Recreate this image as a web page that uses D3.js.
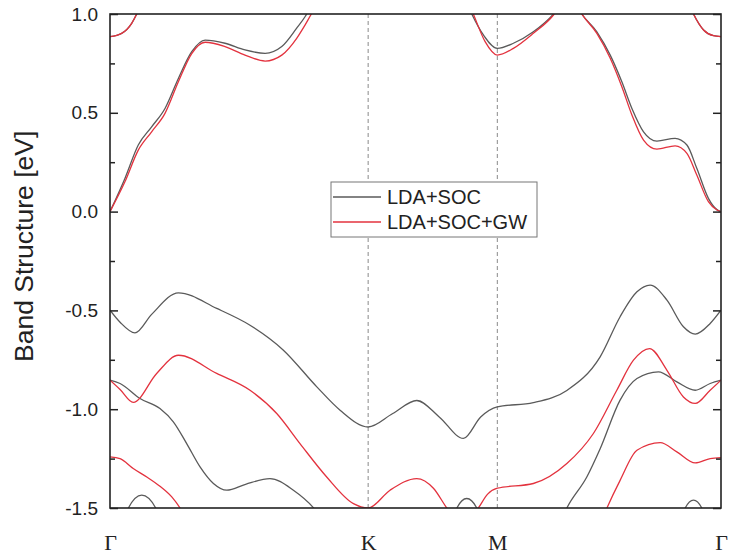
<!DOCTYPE html>
<html>
<head>
<meta charset="utf-8">
<script src="https://d3js.org/d3.v7.min.js"></script>
<style>
  body { margin: 0; background: #fff; }
  svg { display: block; }
</style>
</head>
<body>
<script>
// high symmetry points along the path (path length units) and their labels
const kPoints = [0, 1.333, 2.0, 3.155];
const kLabels = ["Γ", "K", "M", "Γ"];
const yTicks = [-1.5, -1.0, -0.5, 0.0, 0.5, 1.0];
const yMinor = [-1.25, -0.75, -0.25, 0.25, 0.75];
const seriesNames = ["LDA+SOC", "LDA+SOC+GW"];

// LDA+SOC bands, [k, E in eV]
const ldaBands = [
  [[0,0.0],[0.077,0.168],[0.146,0.337],[0.215,0.429],[0.284,0.522],[0.353,0.674],[0.422,0.809],[0.491,0.868],[0.594,0.852],[0.697,0.818],[0.801,0.801],[0.887,0.835],[0.964,0.928],[1.007,0.986],[1.05,1.06]],
  [[1.84,1.06],[1.868,1.0],[1.928,0.894],[2.0,0.826],[2.083,0.852],[2.186,0.91],[2.29,1.0],[2.33,1.05]],
  [[2.40,1.06],[2.436,1.0],[2.514,0.91],[2.583,0.792],[2.643,0.657],[2.695,0.522],[2.755,0.404],[2.824,0.357],[2.918,0.371],[2.979,0.337],[3.03,0.219],[3.09,0.067],[3.134,0.01],[3.155,0.0]],
  [[0,0.885],[0.06,0.902],[0.112,0.953],[0.138,1.0],[0.16,1.05]],
  [[2.99,1.05],[3.013,1.0],[3.065,0.919],[3.116,0.89],[3.155,0.885]],
  [[0,-0.499],[0.052,-0.56],[0.129,-0.614],[0.215,-0.52],[0.353,-0.411],[0.551,-0.49],[0.723,-0.575],[0.894,-0.70],[1.068,-0.887],[1.188,-1.005],[1.333,-1.09],[1.46,-1.022],[1.584,-0.956],[1.70,-1.039],[1.825,-1.148],[1.914,-1.039],[2.0,-0.988],[2.186,-0.967],[2.359,-0.905],[2.531,-0.735],[2.634,-0.532],[2.721,-0.406],[2.789,-0.372],[2.876,-0.448],[2.961,-0.583],[3.022,-0.62],[3.099,-0.566],[3.155,-0.499]],
  [[0,-0.853],[0.052,-0.87],[0.155,-0.946],[0.258,-0.997],[0.327,-1.064],[0.396,-1.174],[0.465,-1.292],[0.534,-1.376],[0.603,-1.41],[0.70,-1.38],[0.826,-1.351],[0.947,-1.41],[1.05,-1.498],[1.10,-1.56]],
  [[0.07,-1.56],[0.095,-1.5],[0.164,-1.435],[0.236,-1.5],[0.26,-1.56]],
  [[1.77,-1.56],[1.791,-1.5],[1.842,-1.452],[1.894,-1.5],[1.915,-1.56]],
  [[2.95,-1.56],[2.970,-1.5],[3.013,-1.46],[3.056,-1.5],[3.075,-1.56]],
  [[2.33,-1.56],[2.359,-1.5],[2.462,-1.343],[2.531,-1.20],[2.634,-0.954],[2.721,-0.845],[2.832,-0.811],[2.927,-0.862],[3.022,-0.904],[3.099,-0.87],[3.155,-0.853]]
];

// LDA+SOC+GW bands
const gwBands = [
  [[0,0.0],[0.077,0.151],[0.146,0.311],[0.215,0.404],[0.284,0.497],[0.353,0.657],[0.422,0.80],[0.491,0.857],[0.594,0.835],[0.697,0.792],[0.801,0.762],[0.887,0.792],[0.964,0.877],[1.007,0.944],[1.04,1.0],[1.08,1.06]],
  [[1.85,1.06],[1.876,1.0],[1.937,0.86],[2.0,0.792],[2.083,0.826],[2.186,0.902],[2.29,0.995],[2.33,1.05]],
  [[2.40,1.06],[2.436,1.0],[2.514,0.902],[2.583,0.776],[2.643,0.632],[2.695,0.489],[2.755,0.362],[2.824,0.316],[2.918,0.333],[2.979,0.295],[3.03,0.185],[3.09,0.05],[3.134,0.008],[3.155,0.0]],
  [[0,0.885],[0.06,0.902],[0.112,0.953],[0.138,1.0],[0.16,1.05]],
  [[2.99,1.05],[3.013,1.0],[3.065,0.919],[3.116,0.89],[3.155,0.885]],
  [[0,-0.853],[0.052,-0.90],[0.12,-0.965],[0.241,-0.819],[0.353,-0.727],[0.551,-0.819],[0.723,-0.904],[0.861,-1.022],[0.981,-1.174],[1.119,-1.343],[1.257,-1.478],[1.333,-1.50],[1.446,-1.41],[1.584,-1.351],[1.67,-1.40],[1.739,-1.5],[1.82,-1.6],[1.902,-1.5],[1.95,-1.43],[2.0,-1.40],[2.186,-1.376],[2.359,-1.275],[2.496,-1.123],[2.617,-0.904],[2.703,-0.752],[2.786,-0.693],[2.876,-0.803],[2.961,-0.938],[3.022,-0.971],[3.099,-0.904],[3.155,-0.853]],
  [[0,-1.241],[0.052,-1.25],[0.12,-1.30],[0.19,-1.343],[0.258,-1.39],[0.319,-1.444],[0.362,-1.5],[0.40,-1.56]],
  [[2.54,-1.56],[2.566,-1.5],[2.634,-1.36],[2.721,-1.208],[2.841,-1.169],[2.927,-1.216],[3.022,-1.272],[3.099,-1.25],[3.155,-1.245]]
];

var width = 730, height = 559;
var plotLeft = 110, plotRight = 721, plotTop = 14, plotBottom = 508;
var colors = ["#5a5a5a", "#e3323e"];

var svg = d3.select("body").append("svg")
  .attr("width", width)
  .attr("height", height);

var x = d3.scaleLinear().domain([kPoints[0], kPoints[3]]).range([plotLeft, plotRight]);
var y = d3.scaleLinear().domain([-1.5, 1.0]).range([plotBottom, plotTop]);

svg.append("clipPath").attr("id", "plotclip")
  .append("rect")
  .attr("x", plotLeft).attr("y", plotTop)
  .attr("width", plotRight - plotLeft).attr("height", plotBottom - plotTop);

// dashed lines at K and M
svg.selectAll(".kline")
  .data(kPoints.slice(1, 3))
  .enter().append("line")
  .attr("class", "kline")
  .attr("x1", d => x(d)).attr("x2", d => x(d))
  .attr("y1", plotTop).attr("y2", plotBottom)
  .attr("stroke", "#8a8a8a")
  .attr("stroke-width", 1)
  .attr("stroke-dasharray", "4,3");

var line = d3.line()
  .x(d => x(d[0]))
  .y(d => y(d[1]))
  .curve(d3.curveMonotoneX);

var bandGroup = svg.append("g").attr("clip-path", "url(#plotclip)");

[ldaBands, gwBands].forEach((bands, i) => {
  bandGroup.append("g")
    .selectAll("path")
    .data(bands)
    .enter().append("path")
    .attr("d", line)
    .attr("fill", "none")
    .attr("stroke", colors[i])
    .attr("stroke-width", 1.3);
});

// axes
var fontSans = "'Liberation Sans', Arial, sans-serif";

function styleTicks(g) {
  g.select(".domain").remove();
  g.selectAll("line").attr("stroke", "#222").attr("stroke-width", 1.5);
}

var yAxis = svg.append("g")
  .attr("transform", "translate(" + plotLeft + ",0)")
  .call(d3.axisLeft(y).tickValues(yTicks).tickSizeInner(-8).tickSizeOuter(0).tickPadding(12)
    .tickFormat(d => d.toFixed(1)));
styleTicks(yAxis);
yAxis.selectAll("text").attr("font-family", fontSans).attr("font-size", 19).attr("fill", "#222");

var yMinorAxis = svg.append("g")
  .attr("transform", "translate(" + plotLeft + ",0)")
  .call(d3.axisLeft(y).tickValues(yMinor).tickSizeInner(-5).tickSizeOuter(0).tickFormat(""));
styleTicks(yMinorAxis);

var yRight = svg.append("g")
  .attr("transform", "translate(" + plotRight + ",0)")
  .call(d3.axisRight(y).tickValues(yTicks).tickSizeInner(-8).tickSizeOuter(0).tickFormat(""));
styleTicks(yRight);

var yRightMinor = svg.append("g")
  .attr("transform", "translate(" + plotRight + ",0)")
  .call(d3.axisRight(y).tickValues(yMinor).tickSizeInner(-5).tickSizeOuter(0).tickFormat(""));
styleTicks(yRightMinor);

var xAxis = svg.append("g")
  .attr("transform", "translate(0," + plotBottom + ")")
  .call(d3.axisBottom(x).tickValues(kPoints).tickSize(0).tickPadding(26)
    .tickFormat((d, i) => kLabels[i]));
xAxis.select(".domain").remove();
xAxis.selectAll("text")
  .attr("font-family", "'Liberation Serif', 'Times New Roman', serif")
  .attr("font-size", 22)
  .attr("fill", "#222");

// frame
svg.append("rect")
  .attr("x", plotLeft).attr("y", plotTop)
  .attr("width", plotRight - plotLeft).attr("height", plotBottom - plotTop)
  .attr("fill", "none")
  .attr("stroke", "#222")
  .attr("stroke-width", 1.6);

// y title, starts near the bottom of the plot and reads upwards
svg.append("text")
  .attr("transform", "translate(33,362) rotate(-90)")
  .attr("text-anchor", "start")
  .attr("font-family", fontSans)
  .attr("font-size", 26.5)
  .attr("fill", "#222")
  .text("Band Structure [eV]");

// legend
var legend = svg.append("g").attr("transform", "translate(331,182)");
legend.append("rect")
  .attr("width", 206).attr("height", 55)
  .attr("fill", "#fff")
  .attr("stroke", "#777")
  .attr("stroke-width", 1);
seriesNames.forEach((name, i) => {
  var row = legend.append("g").attr("transform", "translate(0," + (15 + i * 25) + ")");
  row.append("line")
    .attr("x1", 2).attr("x2", 50)
    .attr("stroke", colors[i]).attr("stroke-width", 1.3);
  row.append("text")
    .attr("x", 56).attr("dy", "0.36em")
    .attr("font-family", fontSans)
    .attr("font-size", 20)
    .attr("fill", "#222")
    .text(name);
});
</script>
</body>
</html>
